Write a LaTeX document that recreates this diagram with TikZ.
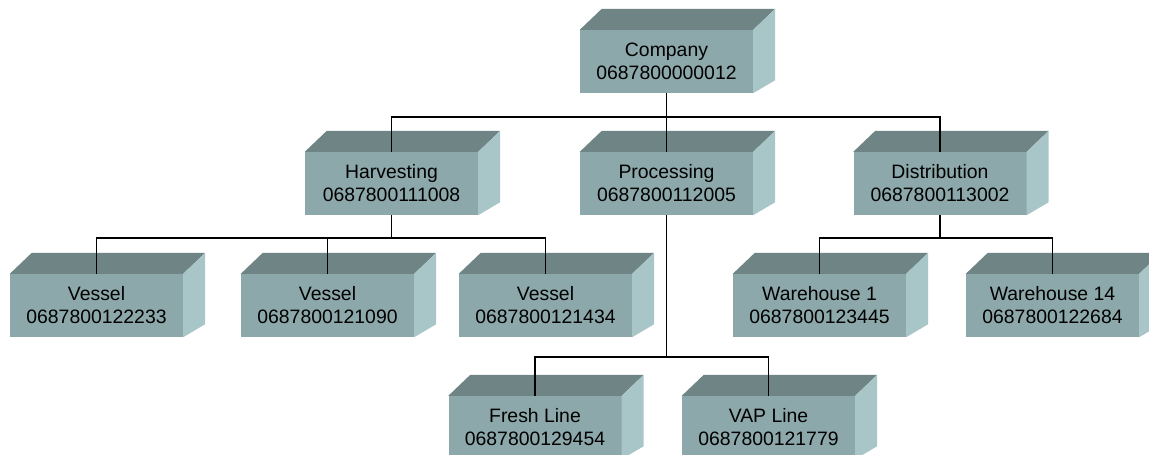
\documentclass[tikz,border=0pt]{standalone}
\usepackage{fontspec}
\setmainfont{Liberation Sans}
\usetikzlibrary{calc}
\definecolor{frontc}{RGB}{141,168,170}
\definecolor{topc}{RGB}{111,132,133}
\definecolor{sidec}{RGB}{168,197,200}
\tikzset{
  unit/.style={rectangle, fill=frontc, minimum width=173, minimum height=63,
    inner sep=0pt, align=center, font=\fontsize{19.4}{23}\selectfont},
  link/.style={line width=1.8pt, black}
}
% top and right faces of a unit box
\newcommand\unitfaces[1]{%
  \fill[topc] (#1.north west) -- ++(22,21) -- ($(#1.north east)+(22,21)$) -- (#1.north east) -- cycle;
  \fill[sidec] (#1.north east) -- ++(22,21) -- ($(#1.south east)+(22,13)$) -- (#1.south east) -- cycle;}
\begin{document}
\begin{tikzpicture}[x=1pt,y=1pt]
\useasboundingbox (0,0) rectangle (1149,455);
\fill[white] (0,0) rectangle (1149,455);
% level 0
\node[unit] (co) at (666.5,393.5) {Company\\0687800000012};
% level 1
\node[unit] (ha) at (391.5,271.5) {Harvesting\\0687800111008};
\node[unit] (pr) at (666.5,271.5) {Processing\\0687800112005};
\node[unit] (di) at (940,271.5) {Distribution\\0687800113002};
% level 2
\node[unit] (v1) at (96.5,149.5) {Vessel\\0687800122233};
\node[unit] (v2) at (327.5,149.5) {Vessel\\0687800121090};
\node[unit] (v3) at (545.5,149.5) {Vessel\\0687800121434};
\node[unit] (w1) at (819.5,149.5) {Warehouse 1\\0687800123445};
\node[unit] (w14) at (1052.5,149.5) {Warehouse 14\\0687800122684};
% level 3
\node[unit] (fl) at (535,27.5) {Fresh Line\\0687800129454};
\node[unit] (vl) at (768.5,27.5) {VAP Line\\0687800121779};
\foreach \n in {co,ha,pr,di,v1,v2,v3,w1,w14,fl,vl}{\unitfaces{\n}}
% connectors
\draw[link] (co.south) -- ++(0,-24) coordinate (cb);
\draw[link] (ha.north) |- (cb) -| (di.north);
\draw[link] (pr.north) -- (pr.north |- cb);
\draw[link] (ha.south) -- ++(0,-23) coordinate (hb);
\draw[link] (v1.north) |- (hb) -| (v3.north);
\draw[link] (v2.north) -- (v2.north |- hb);
\draw[link] (di.south) -- ++(0,-23) coordinate (db);
\draw[link] (w1.north) |- (db) -| (w14.north);
\draw[link] (pr.south) -- ++(0,-142) coordinate (pb);
\draw[link] (fl.north) |- (pb) -| (vl.north);
\end{tikzpicture}
\end{document}
